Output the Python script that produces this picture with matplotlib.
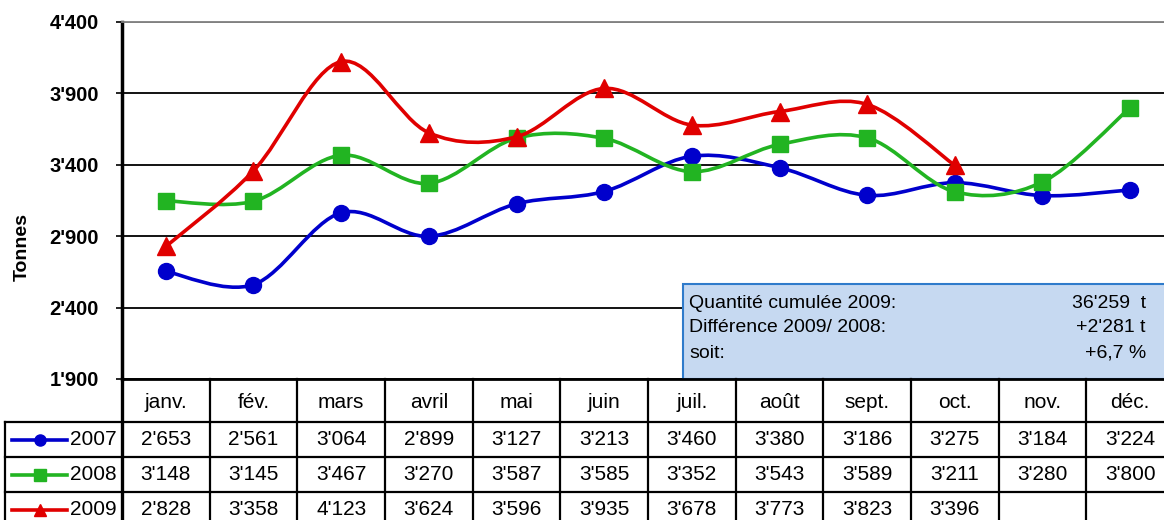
import matplotlib
matplotlib.use("Agg")
import matplotlib.pyplot as plt
from matplotlib.path import Path
from matplotlib.patches import PathPatch, Rectangle
import numpy as np

months = ["janv.", "fév.", "mars", "avril", "mai", "juin", "juil.", "août", "sept.", "oct.", "nov.", "déc."]
v2007 = [2653, 2561, 3064, 2899, 3127, 3213, 3460, 3380, 3186, 3275, 3184, 3224]
v2008 = [3148, 3145, 3467, 3270, 3587, 3585, 3352, 3543, 3589, 3211, 3280, 3800]
v2009 = [2828, 3358, 4123, 3624, 3596, 3935, 3678, 3773, 3823, 3396]
years = ["2007", "2008", "2009"]
yticks = [1900, 2400, 2900, 3400, 3900, 4400]

box_lines = ["Quantité cumulée 2009:", "Différence 2009/ 2008:", "soit:"]
box_values = ["36'259  t", "+2'281 t", "+6,7 %"]

plt.rcParams['font.family'] = ['Liberation Sans', 'DejaVu Sans']


def fmt(v):
    return f"{v:,}".replace(",", "'")


def smooth_path(xs, ys):
    # excel style smoothed line (catmull-rom as bezier)
    pts = list(zip(xs, ys))
    n = len(pts)
    verts = [pts[0]]
    codes = [Path.MOVETO]
    for i in range(n - 1):
        p0 = pts[max(i - 1, 0)]
        p1 = pts[i]
        p2 = pts[i + 1]
        p3 = pts[min(i + 2, n - 1)]
        c1 = (p1[0] + (p2[0] - p0[0]) / 6, p1[1] + (p2[1] - p0[1]) / 6)
        c2 = (p2[0] - (p3[0] - p1[0]) / 6, p2[1] - (p3[1] - p1[1]) / 6)
        verts += [c1, c2, p2]
        codes += [Path.CURVE4] * 3
    return Path(verts, codes)


W, H = 1164, 520
fig = plt.figure(figsize=(W / 100, H / 100), dpi=100)

pl, pr, pt, pb = 122, 1174, 22, 379
ax = fig.add_axes([pl / W, 1 - pb / H, (pr - pl) / W, (pb - pt) / H])
ax.set_xlim(-0.5, 11.5)
ax.set_ylim(1900, 4400)
ax.set_xticks([])
ax.set_yticks(yticks)
ax.set_yticklabels([fmt(t) for t in yticks], fontsize=14.5, fontweight='bold')
ax.tick_params(axis='y', direction='out', length=4.5, width=1.2, pad=12)
ax.yaxis.grid(True, color='black', lw=1.3)
for gl, t in zip(ax.get_ygridlines(), yticks):
    if t == 4400:
        gl.set_color('#808080')
ax.spines['left'].set_linewidth(2.5)
ax.spines['right'].set_visible(False)
ax.spines['bottom'].set_visible(False)
ax.spines['top'].set_color('#808080')
ax.spines['top'].set_linewidth(1.3)

colors = ["#0000CC", "#22B422", "#E00000"]
markers = ["o", "s", "^"]
msizes = [11.5, 11.5, 12.5]
all_vals = [v2007, v2008, v2009]

for k, vals in enumerate(all_vals):
    x = np.arange(len(vals))
    ax.add_patch(PathPatch(smooth_path(x, vals), fill=False, edgecolor=colors[k],
                           lw=2.6, capstyle='round', zorder=3 + k))
    ax.plot(x, vals, ls='none', marker=markers[k], ms=msizes[k], color=colors[k],
            mec=colors[k], zorder=3 + k + 0.5)

fig.text(22 / W, 1 - 247 / H, "Tonnes", rotation=90, fontsize=14, fontweight='bold',
         ha='center', va='center')

# overlay in pixel coords for table and box
ov = fig.add_axes([0, 0, 1, 1])
ov.set_xlim(0, W)
ov.set_ylim(H, 0)
ov.axis('off')

# info box
ov.add_patch(Rectangle((683, 284), pr - 683 + 10, pb - 284, fc='#C6D9F1', ec='#2F7BCB', lw=1.5))
for j, (lab, val) in enumerate(zip(box_lines, box_values)):
    yb = 307.5 + j * 25
    ov.text(689, yb, lab, fontsize=14, va='baseline', ha='left')
    ov.text(1146, yb, val, fontsize=14, va='baseline', ha='right')

# data table
col_w = (pr - pl) / 12
rows = [379, 422, 457, 492, 527]
lw_t = 1.6
ov.plot([pl, pr], [379, 379], color='black', lw=2)
for yy in rows[1:4]:
    ov.plot([5, pr], [yy, yy], color='black', lw=lw_t)
ov.plot([5, 5], [422, 527], color='black', lw=lw_t)
for c in range(13):
    xx = pl + c * col_w
    ov.plot([xx, xx], [379, 527], color='black', lw=2.4 if c == 0 else lw_t)

for i, m in enumerate(months):
    ov.text(pl + (i + 0.5) * col_w, 402, m, fontsize=15, ha='center', va='center')

for k, vals in enumerate(all_vals):
    yc = (rows[k + 1] + rows[k + 2]) / 2
    for i, v in enumerate(vals):
        ov.text(pl + (i + 0.5) * col_w, yc, fmt(v), fontsize=15, ha='center', va='center')
    ov.plot([12, 67], [yc, yc], color=colors[k], lw=2.6)
    ov.plot([40], [yc], marker=markers[k], ms=8, color=colors[k], mec=colors[k])
    ov.text(117, yc, years[k], fontsize=15, ha='right', va='center')

fig.savefig("out.png", dpi=100)
